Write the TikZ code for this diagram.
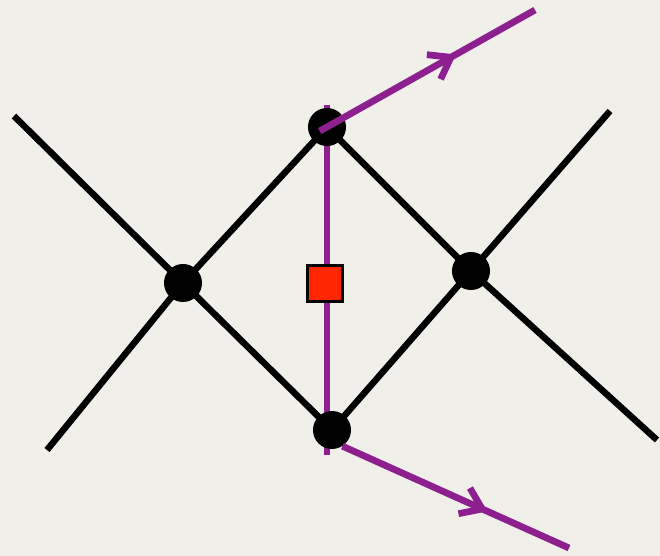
\documentclass[tikz,border=0pt]{standalone}
\usepackage{tikz}
\usetikzlibrary{arrows.meta,decorations.markings}
\definecolor{paper}{HTML}{F1EFE9}
\definecolor{prop}{HTML}{8E1F8E}
\definecolor{vtx}{HTML}{FF2600}
\pgfdeclarelayer{bg}
\pgfdeclarelayer{lines}
\pgfsetlayers{bg,lines,main}

\begin{document}
\begin{tikzpicture}[x=0.025cm,y=-0.025cm,>=Latex,
  leg/.style={line width=4.6pt},
  fermion/.style={draw=prop,line width=4.8pt},
  dot/.style={circle,fill=black,inner sep=0pt,minimum size=0.95cm},
  insert/.style={draw=black,fill=vtx,line width=2pt,inner sep=0pt,minimum size=0.88cm},
  midarrow/.style={postaction={decorate},
    decoration={markings,mark=at position #1 with {\arrow{Straight Barb[length=14pt,width=20pt]}}}}]
% paper
\begin{pgfonlayer}{bg}
\fill[paper] (0,0) rectangle (660,556);
\end{pgfonlayer}
\useasboundingbox (0,0) rectangle (660,556);

% vertices
\node[dot] (L) at (183,283) {};
\node[dot] (T) at (327,127) {};
\node[dot] (R) at (471,271) {};
\node[dot] (B) at (332,430) {};
\node[insert] (Q) at (325,283.5) {};

% free ends
\coordinate (ul) at (14,116);
\coordinate (ll) at (47,450);
\coordinate (ur) at (610,111);
\coordinate (lr) at (657,440);
\coordinate (tv) at (327,105);
\coordinate (bv) at (327,455);
\coordinate (out1) at (535,10);
\coordinate (out2) at (569,548);

% legs
\begin{pgfonlayer}{lines}
\draw[leg] (ul) -- (L.center) -- (B.center);
\draw[leg] (ll) -- (L.center) -- (T.center) -- (R.center) -- (lr);
\draw[leg] (B.center) -- (R.center) -- (ur);
\draw[fermion] (tv) -- (bv);
\end{pgfonlayer}

% outgoing lines
\draw[fermion,midarrow=0.62,shorten <=-6pt] (T.center) -- (out1);
\draw[fermion,midarrow=0.64] (B.-57) -- (out2);
\end{tikzpicture}
\end{document}
